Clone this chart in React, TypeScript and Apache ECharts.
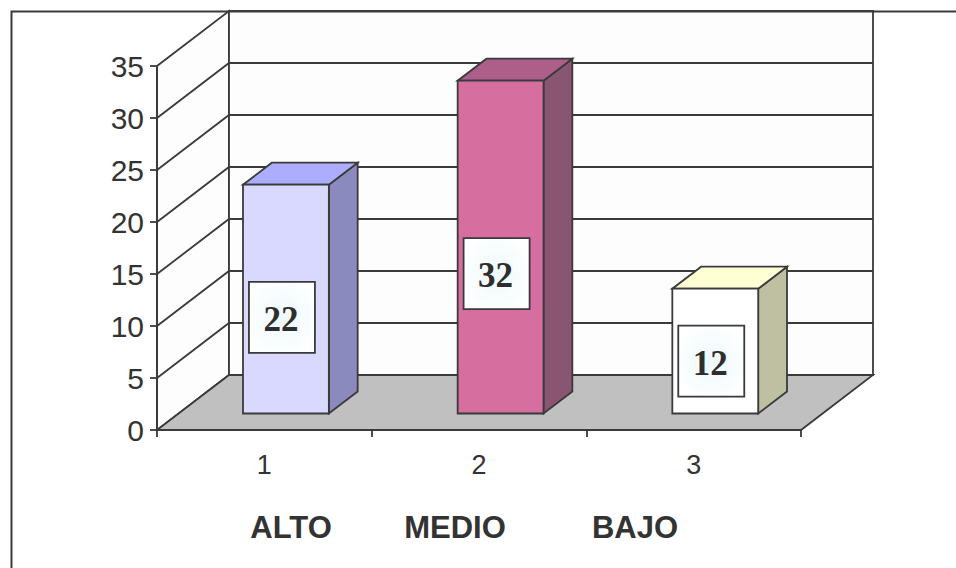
import React, { useEffect, useRef } from "react";
import * as echarts from "echarts";

// Category ticks, their names and the value of each bar
const CATEGORIES = ["1", "2", "3"];
const LEVELS = ["ALTO", "MEDIO", "BAJO"];
const VALUES = [22, 32, 12];

// Value axis range
const Y_MIN = 0;
const Y_MAX = 35;
const Y_STEP = 5;

// Face colours of each bar: front, top, side
const BAR_FACES = [
  { front: "#D9D9FF", top: "#ADADFF", side: "#8A8ABF" },
  { front: "#D66FA0", top: "#AD5F8A", side: "#8A5570" },
  { front: "#FFFFFF", top: "#FFFFD4", side: "#BFBFA2" },
];

// Layout of the pseudo-3D box
const DEPTH_X = 72;
const DEPTH_Y = 55;
const BAR_FRONT = 0.3;
const BAR_BACK = 0.7;
const BAR_WIDTH = 0.4;
const LABEL_POS = 0.42;
const LINE = "#3A3A3A";
const LINE_W = 1.8;
const TEXT = "#333333";
const LEVEL_X = [291, 455, 635];
const LEVEL_Y = 527;

export default function App() {
  const ref = useRef<HTMLDivElement>(null);

  useEffect(() => {
    if (!ref.current) return;
    const chart = echarts.init(ref.current, null, { renderer: "svg" });

    const frameItem = (params: any, api: any) => {
      const band = api.size([1, 0])[0];
      const first = api.coord([0, Y_MIN]);
      const last = api.coord([CATEGORIES.length - 1, Y_MIN]);
      const left = first[0] - band / 2;
      const right = last[0] + band / 2;
      const y0 = first[1];
      const yTop = api.coord([0, Y_MAX])[1];
      const children: any[] = [];
      children.push({
        type: "polygon",
        shape: {
          points: [
            [left, y0],
            [left + DEPTH_X, y0 - DEPTH_Y],
            [left + DEPTH_X, yTop - DEPTH_Y],
            [left, yTop],
          ],
        },
        style: { fill: "#FDFDFD", stroke: LINE, lineWidth: LINE_W },
      });
      children.push({
        type: "polygon",
        shape: {
          points: [
            [left + DEPTH_X, y0 - DEPTH_Y],
            [right + DEPTH_X, y0 - DEPTH_Y],
            [right + DEPTH_X, yTop - DEPTH_Y],
            [left + DEPTH_X, yTop - DEPTH_Y],
          ],
        },
        style: { fill: "#FDFDFD", stroke: LINE, lineWidth: LINE_W },
      });
      for (let v = Y_MIN + Y_STEP; v < Y_MAX; v += Y_STEP) {
        const y = api.coord([0, v])[1];
        children.push({
          type: "polyline",
          shape: {
            points: [
              [left, y],
              [left + DEPTH_X, y - DEPTH_Y],
              [right + DEPTH_X, y - DEPTH_Y],
            ],
          },
          style: { fill: null, stroke: LINE, lineWidth: LINE_W },
        });
      }
      children.push({
        type: "polygon",
        shape: {
          points: [
            [left, y0],
            [right, y0],
            [right + DEPTH_X, y0 - DEPTH_Y],
            [left + DEPTH_X, y0 - DEPTH_Y],
          ],
        },
        style: { fill: "#C0C0C0", stroke: LINE, lineWidth: LINE_W },
      });
      return { type: "group", children };
    };

    const barItem = (params: any, api: any) => {
      const i = api.value(0);
      const v = api.value(1);
      const band = api.size([1, 0])[0];
      const w = band * BAR_WIDTH;
      const [cx, yT] = api.coord([i, v]);
      const y0 = api.coord([i, Y_MIN])[1];
      const fx = DEPTH_X * BAR_FRONT;
      const fy = DEPTH_Y * BAR_FRONT;
      const bx = DEPTH_X * BAR_BACK;
      const by = DEPTH_Y * BAR_BACK;
      const L = cx - w / 2;
      const R = cx + w / 2;
      const c = BAR_FACES[i];
      const stroke = { stroke: LINE, lineWidth: LINE_W };
      const labelY = api.coord([i, v * LABEL_POS])[1] - fy;
      const labelX = cx + fx - 4;
      const boxW = 66;
      const boxH = 71;
      return {
        type: "group",
        children: [
          {
            type: "polygon",
            shape: {
              points: [
                [R + fx, yT - fy],
                [R + bx, yT - by],
                [R + bx, y0 - by],
                [R + fx, y0 - fy],
              ],
            },
            style: { fill: c.side, ...stroke },
          },
          {
            type: "polygon",
            shape: {
              points: [
                [L + fx, yT - fy],
                [R + fx, yT - fy],
                [R + bx, yT - by],
                [L + bx, yT - by],
              ],
            },
            style: { fill: c.top, ...stroke },
          },
          {
            type: "rect",
            shape: { x: L + fx, y: yT - fy, width: w, height: y0 - yT },
            style: { fill: c.front, ...stroke },
          },
          {
            type: "rect",
            shape: {
              x: labelX - boxW / 2,
              y: labelY - boxH / 2,
              width: boxW,
              height: boxH,
            },
            style: {
              fill: new echarts.graphic.RadialGradient(0.5, 0.5, 0.6, [
                { offset: 0, color: "#EEF9FC" },
                { offset: 1, color: "#FFFFFF" },
              ]),
              stroke: LINE,
              lineWidth: LINE_W,
            },
          },
          {
            type: "text",
            x: labelX - 1,
            y: labelY + 2,
            style: {
              text: String(v),
              fill: "#2E2E2E",
              font: 'bold 35px "Liberation Serif", "Times New Roman", serif',
              align: "center",
              verticalAlign: "middle",
            },
          },
        ],
      };
    };

    chart.setOption({
      animation: false,
      backgroundColor: "#FFFFFF",
      grid: { left: 157, right: 155, top: 66, bottom: 138, containLabel: false },
      xAxis: {
        type: "category",
        data: CATEGORIES,
        boundaryGap: true,
        axisLine: { show: true, lineStyle: { color: LINE, width: LINE_W } },
        axisTick: { show: true, length: 7, lineStyle: { color: LINE, width: LINE_W } },
        axisLabel: {
          color: TEXT,
          fontSize: 27,
          fontFamily: '"Liberation Sans", Arial, sans-serif',
          margin: 21,
        },
        splitLine: { show: false },
        z: 5,
      },
      yAxis: {
        type: "value",
        min: Y_MIN,
        max: Y_MAX,
        interval: Y_STEP,
        axisLine: { show: true, lineStyle: { color: LINE, width: LINE_W } },
        axisTick: { show: true, length: 7, lineStyle: { color: LINE, width: LINE_W } },
        axisLabel: {
          color: TEXT,
          fontSize: 30,
          fontFamily: '"Liberation Sans", Arial, sans-serif',
          margin: 13,
        },
        splitLine: { show: false },
        z: 5,
      },
      graphic: [
        {
          type: "rect",
          left: 9,
          top: 9,
          shape: { width: 1000, height: 600 },
          style: { fill: null, stroke: LINE, lineWidth: 2 },
          z: 100,
        },
        ...LEVELS.map((name, k) => ({
          type: "text",
          x: LEVEL_X[k],
          y: LEVEL_Y,
          style: {
            text: name,
            fill: TEXT,
            font: 'bold 31px "Liberation Sans", Arial, sans-serif',
            align: "center",
            verticalAlign: "middle",
          },
        })),
      ],
      series: [
        {
          type: "custom",
          name: "frame",
          data: [[0, Y_MIN]],
          encode: { x: 0, y: 1 },
          renderItem: frameItem,
          clip: false,
          z: 1,
          silent: true,
        },
        {
          type: "custom",
          name: "valores",
          data: VALUES.map((v, i) => [i, v]),
          encode: { x: 0, y: 1 },
          renderItem: barItem,
          clip: false,
          z: 3,
        },
      ],
    });

    return () => chart.dispose();
  }, []);

  return (
    <div
      ref={ref}
      style={{ position: "absolute", left: 0, top: 0, width: 956, height: 568 }}
    />
  );
}
